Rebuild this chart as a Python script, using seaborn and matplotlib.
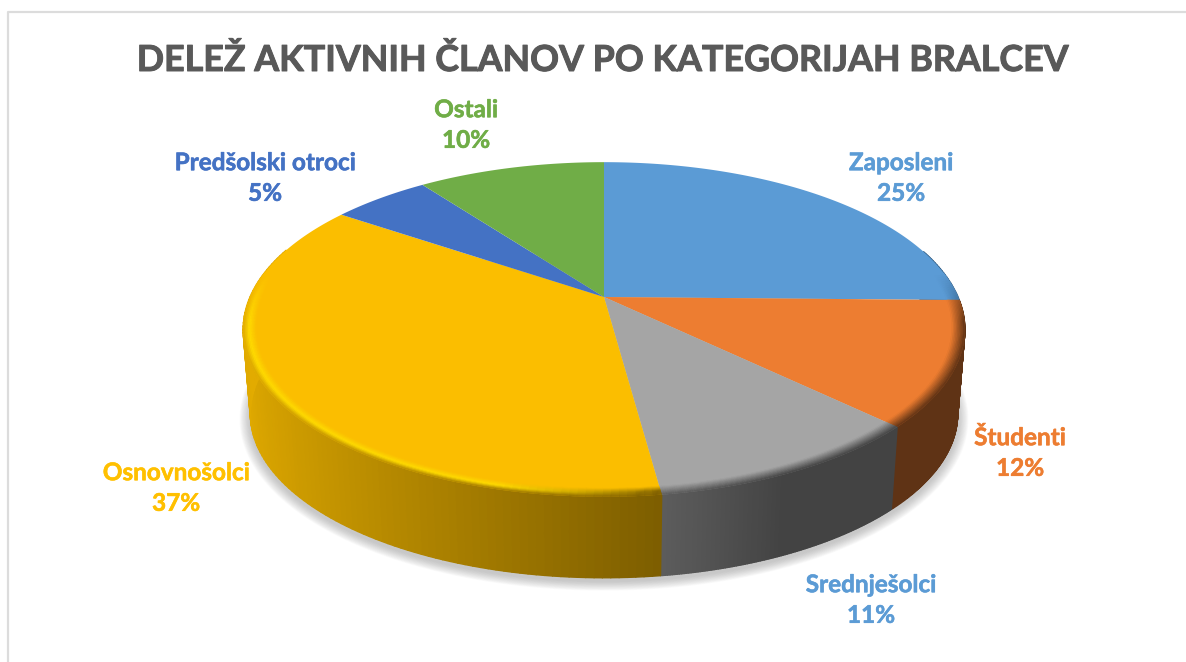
import numpy as np
import seaborn as sns
import matplotlib.pyplot as plt
import matplotlib.patheffects as pe
from matplotlib.collections import PolyCollection
from matplotlib.colors import to_rgb

# podatki (ocenjeno s slike, oznake so zaokrozene)
kategorije = ['Zaposleni', 'Študenti', 'Srednješolci', 'Osnovnošolci', 'Predšolski otroci', 'Ostali']
delezi = [25.3, 12.0, 10.6, 36.7, 5.3, 10.1]
naslov = 'DELEŽ AKTIVNIH ČLANOV PO KATEGORIJAH BRALCEV'

barve = sns.color_palette(['#5B9BD5', '#ED7D31', '#A5A5A5', '#FBBE00', '#4472C4', '#70AD47'])
barve_oznak = ['#5B9BD5', '#ED7D31', '#5B9BD5', '#FFC000', '#4472C4', '#70AD47']
stena_levo = ['#2f5a80', '#5f3315', '#5e5e5e', '#e2ab00', '#2a4a80', '#45702c']
stena_desno = ['#2f5a80', '#5f3315', '#434343', '#7c5d00', '#2a4a80', '#45702c']
oznake_xy = [(901, 178), (1020, 453), (871, 600), (176, 488), (265, 178), (466, 125)]

# geometrija perspektive
CX, CY = 604, 297
A, B, K = 354, 161, 0.194
GLOBINA = 85


def tocka(kot, r=1.0, spodaj=False):
    u, v = r * np.cos(kot), r * np.sin(kot)
    d = 1 + K * v
    if spodaj:
        return CX + 0.98 * A * u / d, CY + GLOBINA - 0.98 * B * v / d
    return CX + A * u / d, CY - B * v / d


def mesaj(c1, c2, t):
    return tuple(np.array(to_rgb(c1)) * (1 - t) + np.array(to_rgb(c2)) * t)


sns.set_theme(style='white')
plt.rcParams['font.family'] = ['Lato', 'DejaVu Sans']

fig = plt.figure(figsize=(11.86, 6.62), dpi=100)
ax = fig.add_axes([0, 0, 1, 1])
ax.set_xlim(0, 1186)
ax.set_ylim(662, 0)
ax.axis('off')

# okvir
ax.plot([8, 8, 1186], [662, 12, 12], color='#dcdcdc', lw=1.6, zorder=1)

# senca pod torto
vsi_koti = np.linspace(0, 2 * np.pi, 240)
for i in range(14):
    x, y = tocka(vsi_koti, spodaj=True)
    x = CX + (x - CX) * (1.002 + i * 0.0022)
    y = (CY + GLOBINA) + (y - CY - GLOBINA) * (1.0 + i * 0.0035) + 4
    ax.fill(x, y, color='#808080', alpha=0.035, lw=0, zorder=2)

# koti rezin, zacetek na vrhu, v smeri urinega kazalca
meje = np.pi / 2 - 2 * np.pi * np.cumsum([0] + delezi) / sum(delezi)

# stranska stena
for i in range(len(delezi)):
    koti = np.linspace(meje[i], meje[i + 1], 120)
    poli, cols = [], []
    for a0, a1 in zip(koti[:-1], koti[1:]):
        if np.sin((a0 + a1) / 2) > 0.3:
            continue
        x0, y0 = tocka(a0)
        x1, y1 = tocka(a1)
        x2, y2 = tocka(a1, spodaj=True)
        x3, y3 = tocka(a0, spodaj=True)
        poli.append([(x0, y0), (x1, y1), (x2, y2), (x3, y3)])
        if i == 2:
            t = np.clip((np.cos(a0) - 0.12) / 0.3, 0, 1)
        else:
            t = np.clip((np.cos(a0) + 1) / 1.15, 0, 1)
        cols.append(mesaj(stena_levo[i], stena_desno[i], t))
    if poli:
        ax.add_collection(PolyCollection(poli, facecolors=cols, edgecolors=cols, linewidths=1.0, zorder=3))

# zgornja ploskev
for i in range(len(delezi)):
    koti = np.linspace(meje[i], meje[i + 1], 150)
    x, y = tocka(koti)
    ax.fill(np.r_[CX, x], np.r_[CY, y], color=barve[i], lw=0, zorder=4)

# zaobljen rob
radiji = np.linspace(0.965, 1.0, 10)
for i in range(len(delezi)):
    koti = np.linspace(meje[i], meje[i + 1], 120)
    poli, cols = [], []
    for a0, a1 in zip(koti[:-1], koti[1:]):
        am = (a0 + a1) / 2
        um, vm = np.cos(am), np.sin(am)
        moc = np.clip((0.15 - vm) / 0.3, 0, 1)
        if moc == 0:
            continue
        t_st = np.clip((um + 1) / 1.15, 0, 1) if i != 2 else np.clip((um - 0.12) / 0.3, 0, 1)
        stena = mesaj(stena_levo[i], stena_desno[i], t_st)
        if i == 3:
            sredina = mesaj('#ffdc00', stena, np.clip((um + 0.25) / 0.4, 0, 1))
        else:
            sredina = mesaj(barve[i], stena, 0.55)
        for r0, r1 in zip(radiji[:-1], radiji[1:]):
            t = (r0 + r1 - 2 * radiji[0]) / 2 / (radiji[-1] - radiji[0])
            if t < 0.55:
                c = mesaj(barve[i], sredina, t / 0.55)
            else:
                c = mesaj(sredina, stena, (t - 0.55) / 0.45)
            c = mesaj(barve[i], c, moc)
            p = [tocka(a0, r0), tocka(a1, r0), tocka(a1, r1), tocka(a0, r1)]
            poli.append(p)
            cols.append(c)
    if poli:
        ax.add_collection(PolyCollection(poli, facecolors=cols, edgecolors=cols, linewidths=0.3, zorder=5))

# naslov in oznake
t = ax.text(603, 60, naslov, ha='center', va='center', fontsize=25.8, fontweight='bold', color='#595959', zorder=6)
t.set_path_effects([pe.withStroke(linewidth=0.7, foreground='#595959')])
for ime, d, (x, y), c in zip(kategorije, delezi, oznake_xy, barve_oznak):
    t = ax.text(x, y, f'{ime}\n{round(d)}%', ha='center', va='center', fontsize=17.5, fontweight='bold',
                color=c, linespacing=1.4, zorder=6)
    t.set_path_effects([pe.withStroke(linewidth=0.4, foreground=c)])

fig.savefig('out.png', dpi=100)
